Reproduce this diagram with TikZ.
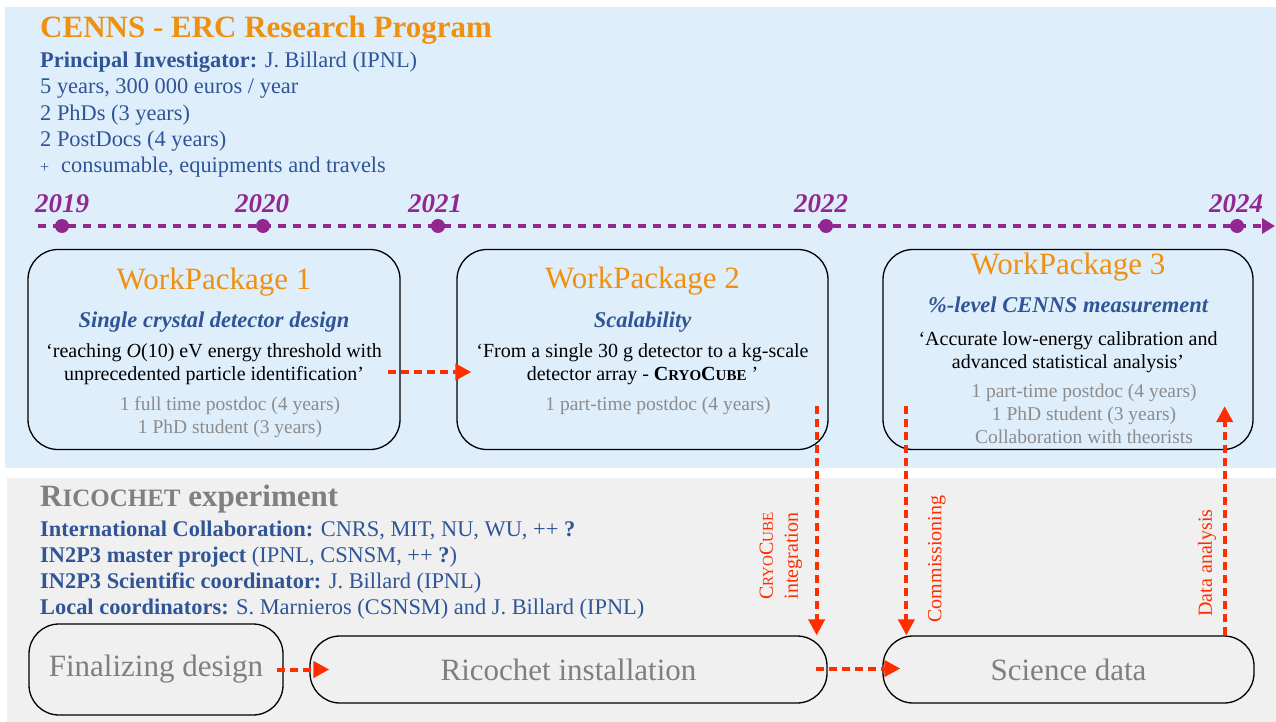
\documentclass[tikz,border=0pt]{standalone}
\usepackage{fontspec}
\setmainfont{Liberation Serif}
\usetikzlibrary{arrows.meta,calc}
\definecolor{corange}{HTML}{F0900F}
\definecolor{cblue}{HTML}{2F5597}
\definecolor{cpurple}{HTML}{92278F}
\definecolor{cred}{HTML}{FF2D00}
\definecolor{cgrey}{HTML}{8C8C8C}
\definecolor{cgreyd}{HTML}{7F7F7F}
\definecolor{bgblue}{HTML}{DFEEFB}
\definecolor{bggrey}{HTML}{F0F0F0}
\newcommand\fs[1]{\fontsize{#1}{#1}\selectfont}
\begin{document}
\begin{tikzpicture}[x=1pt,y=-1pt,
  txt/.style={inner sep=0pt, anchor=base west},
  ctxt/.style={inner sep=0pt, anchor=base},
  hdr/.style={txt, text=cblue, font=\fs{22.4}},
  wptitle/.style={ctxt, text=corange, font=\fs{31}},
  wpsub/.style={ctxt, text=cblue, font=\fs{22.5}\bfseries\itshape},
  wpquote/.style={ctxt, text=black, font=\fs{20}},
  wpnote/.style={ctxt, text=cgrey, font=\fs{19.5}},
  wpbox/.style={draw=black, line width=1.3pt, rounded corners=30pt, inner sep=0pt, minimum height=200pt},
  stagebox/.style={draw=black, line width=1.3pt, rounded corners=30pt, inner sep=0pt, text=cgreyd, font=\fs{31}},
  year/.style={ctxt, text=cpurple, font=\fs{27}\bfseries\itshape},
  dot/.style={circle, fill=cpurple, inner sep=0pt, minimum size=14pt},
  flow/.style={draw=cred, line width=4pt, dash pattern=on 8pt off 5pt, -{Triangle[length=16pt,width=16pt]}},
  vlabel/.style={rotate=90, text=cred, font=\fontsize{20}{25}\selectfont, align=center, inner sep=0pt}
]
\useasboundingbox (0,0) rectangle (1276,722);
\fill[white] (0,0) rectangle (1276,722);
\fill[bgblue] (5,7) rectangle (1276,468);
\fill[bggrey] (7,478) rectangle (1276,722);

% header
\node[txt, text=corange, font=\fs{31}\bfseries] (title) at (40,38) {CENNS - ERC Research Program};
\node[hdr] (pi) at (40,68) {\textbf{Principal Investigator:} J. Billard (IPNL)};
\node[hdr] (h2) at (40,94) {5 years, 300 000 euros / year};
\node[hdr] (h3) at (40,121) {2 PhDs (3 years)};
\node[hdr] (h4) at (40,147) {2 PostDocs (4 years)};
\node[hdr] (h5) at (40,173) {\makebox[21pt][l]{\fs{16}+}consumable, equipments and travels};

% timeline
\coordinate (tl0) at (38,226);
\coordinate (tl1) at (1275,226);
\draw[cpurple, line width=4pt, dash pattern=on 8pt off 7pt, -{Triangle[length=13pt,width=15pt]}] (tl0) -- (tl1);
\node[dot] (d2019) at (62,226) {};
\node[dot] (d2020) at (263,226) {};
\node[dot] (d2021) at (438,226) {};
\node[dot] (d2022) at (826,226) {};
\node[dot] (d2024) at (1237,226) {};
\node[year] (y2019) at (62,212) {2019};
\node[year] (y2020) at (262,212) {2020};
\node[year] (y2021) at (435,212) {2021};
\node[year] (y2022) at (821,212) {2022};
\node[year] (y2024) at (1236,212) {2024};

% work packages
\node[wpbox, minimum width=372pt] (wp1) at (214,349.5) {};
\node[wpbox, minimum width=371pt] (wp2) at (642.5,349.5) {};
\node[wpbox, minimum width=370pt] (wp3) at (1068,349.5) {};

\node[wptitle] (wp1t) at (214,289) {WorkPackage 1};
\node[wpsub] (wp1s) at (214,327) {Single crystal detector design};
\node[wpquote] (wp1q1) at (214,357) {‘reaching \textit{O}(10) eV energy threshold with};
\node[wpquote] (wp1q2) at (214,380) {unprecedented particle identification’};
\node[wpnote] (wp1n1) at (230,410) {1 full time postdoc (4 years)};
\node[wpnote] (wp1n2) at (230,433) {1 PhD student (3 years)};

\node[wptitle] (wp2t) at (642.5,288) {WorkPackage 2};
\node[wpsub] (wp2s) at (642.5,327) {Scalability};
\node[wpquote] (wp2q1) at (642.5,357) {‘From a single 30 g detector to a kg-scale};
\node[wpquote] (wp2q2) at (642.5,380) {detector array - \textbf{C{\fs{15}RYO}C{\fs{15}UBE}} ’};
\node[wpnote] (wp2n1) at (658,410) {1 part-time postdoc (4 years)};

\node[wptitle] (wp3t) at (1068,274) {WorkPackage 3};
\node[wpsub] (wp3s) at (1068,312) {\%-level CENNS measurement};
\node[wpquote] (wp3q1) at (1068,345) {‘Accurate low-energy calibration and};
\node[wpquote] (wp3q2) at (1068,368) {advanced statistical analysis’};
\node[wpnote] (wp3n1) at (1084,397) {1 part-time postdoc (4 years)};
\node[wpnote] (wp3n2) at (1084,420) {1 PhD student (3 years)};
\node[wpnote] (wp3n3) at (1084,443) {Collaboration with theorists};

% Ricochet section
\node[txt, text=cgreyd, font=\fs{31}\bfseries] (rico) at (40,506) {R{\fs{25}ICOCHET} experiment};
\node[hdr] (b1) at (40,536) {\textbf{International Collaboration:} CNRS, MIT, NU, WU, ++ \textbf{?}};
\node[hdr] (b2) at (40,562) {\textbf{IN2P3 master project} (IPNL, CSNSM, ++ \textbf{?})};
\node[hdr] (b3) at (40,588) {\textbf{IN2P3 Scientific coordinator:} J. Billard (IPNL)};
\node[hdr] (b4) at (40,614) {\textbf{Local coordinators:} S. Marnieros (CSNSM) and J. Billard (IPNL)};

\node[stagebox, minimum width=254pt, minimum height=91pt] (fin) at (156,669.5) {Finalizing design};
\node[stagebox, minimum width=517pt, minimum height=67pt] (ric) at (568.5,669.5) {Ricochet installation};
\node[stagebox, minimum width=371pt, minimum height=67pt] (sci) at (1068.5,669.5) {Science data};

% vertical labels
\node[vlabel] (lcc) at (781,556) {C{\fs{15}RYO}C{\fs{15}UBE}\\integration};
\node[vlabel] (lcom) at (937,559) {Commissioning};
\node[vlabel] (lda) at (1207,563) {Data analysis};

% connectors
\draw[flow] ($(wp1.east)+(-13,22.5)$) -- ($(wp2.west)+(15,22.5)$);
\draw[flow] ($(fin.east)+(-7,0)$) -- ($(ric.west)+(20,0)$);
\draw[flow] ($(ric.east)+(-12,-1)$) -- ($(sci.west)+(18,-1)$);
\draw[flow] ($(wp2.south east)+(-12,-44)$) -- ($(ric.north east)+(-11,0)$);
\draw[flow] ($(wp3.south west)+(24,-44)$) -- ($(sci.north west)+(24,0)$);
\draw[flow] ($(sci.north east)+(-30,0)$) -- ($(wp3.south east)+(-29,-44)$);
\end{tikzpicture}
\end{document}
